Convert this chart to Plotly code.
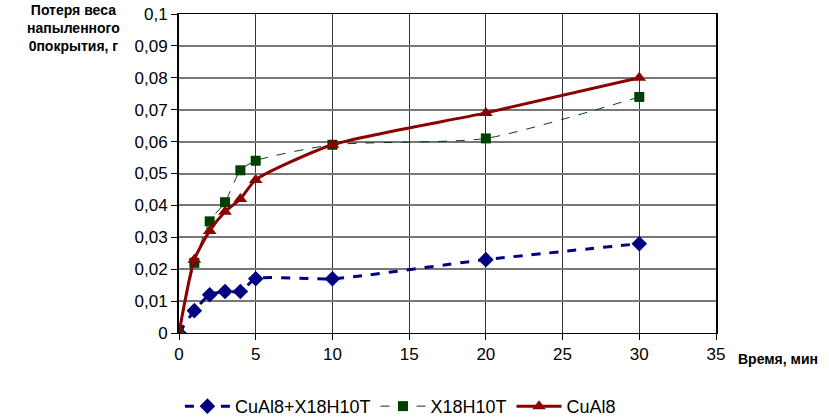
import plotly.graph_objects as go

time_min = [0, 1, 2, 3, 4, 5, 10, 20, 30]
cual8_x18 = [0.0, 0.007, 0.012, 0.013, 0.013, 0.017, 0.017, 0.023, 0.028]
x18h10t = [0.0, 0.022, 0.035, 0.041, 0.051, 0.054, 0.059, 0.061, 0.074]
cual8 = [0.0, 0.023, 0.032, 0.038, 0.042, 0.048, 0.059, 0.069, 0.080]

y_ticks = [0, 0.01, 0.02, 0.03, 0.04, 0.05, 0.06, 0.07, 0.08, 0.09, 0.1]
y_labels = ["0", "0,01", "0,02", "0,03", "0,04", "0,05", "0,06", "0,07", "0,08", "0,09", "0,1"]
x_ticks = [0, 5, 10, 15, 20, 25, 30, 35]

font = "Liberation Sans, Arial, sans-serif"

fig = go.Figure()
fig.add_trace(go.Scatter(
    x=time_min, y=cual8_x18, name="CuAl8+X18H10T", mode="lines+markers",
    line=dict(color="#000080", width=3, dash="dash", shape="spline", smoothing=0.6),
    marker=dict(symbol="diamond", size=12, color="#000080")))
fig.add_trace(go.Scatter(
    x=time_min, y=x18h10t, name="X18H10T", mode="lines+markers",
    line=dict(color="#004000", width=1, dash="dash", shape="spline", smoothing=0.6),
    marker=dict(symbol="square", size=10, color="#004000")))
fig.add_trace(go.Scatter(
    x=time_min, y=cual8, name="CuAl8", mode="lines+markers",
    line=dict(color="#8B0000", width=3, shape="spline", smoothing=0.6),
    marker=dict(symbol="triangle-up", size=12, color="#8B0000")))

fig.update_layout(
    width=829, height=419,
    margin=dict(l=179, r=113, t=14, b=86, autoexpand=False),
    paper_bgcolor="white", plot_bgcolor="white",
    font=dict(family=font, size=17, color="black"),
    showlegend=True,
    legend=dict(orientation="h", x=0.483, xref="container", xanchor="center",
                y=0.03, yref="container", yanchor="middle", itemwidth=45,
                font=dict(size=18), tracegroupgap=0),
    annotations=[
        dict(text="<b>Время, мин</b>", x=1.0, xref="paper", xanchor="left", xshift=20,
             y=0, yref="paper", yanchor="top", yshift=-16, showarrow=False,
             font=dict(size=14)),
        dict(text="<b>Потеря веса<br>напыленного<br>0покрытия, г</b>", x=0, xref="paper",
             xanchor="right", xshift=-57, y=1, yref="paper", yanchor="top", yshift=14,
             showarrow=False, align="center", font=dict(size=14)),
    ],
)
fig.update_xaxes(range=[0, 35], tickvals=x_ticks, showgrid=True, gridcolor="#333333", gridwidth=1,
                 showline=True, linecolor="black", linewidth=1, mirror=True,
                 ticks="outside", ticklen=6, tickcolor="black", zeroline=False,
                 tickfont=dict(size=17))
fig.update_yaxes(range=[0, 0.1], tickvals=y_ticks, ticktext=y_labels, showgrid=True,
                 gridcolor="#777777", gridwidth=1.5,
                 showline=True, linecolor="black", linewidth=2, mirror=True,
                 ticks="outside", ticklen=6, tickcolor="black", zeroline=False,
                 tickfont=dict(size=17))

fig.write_html("out.html")
